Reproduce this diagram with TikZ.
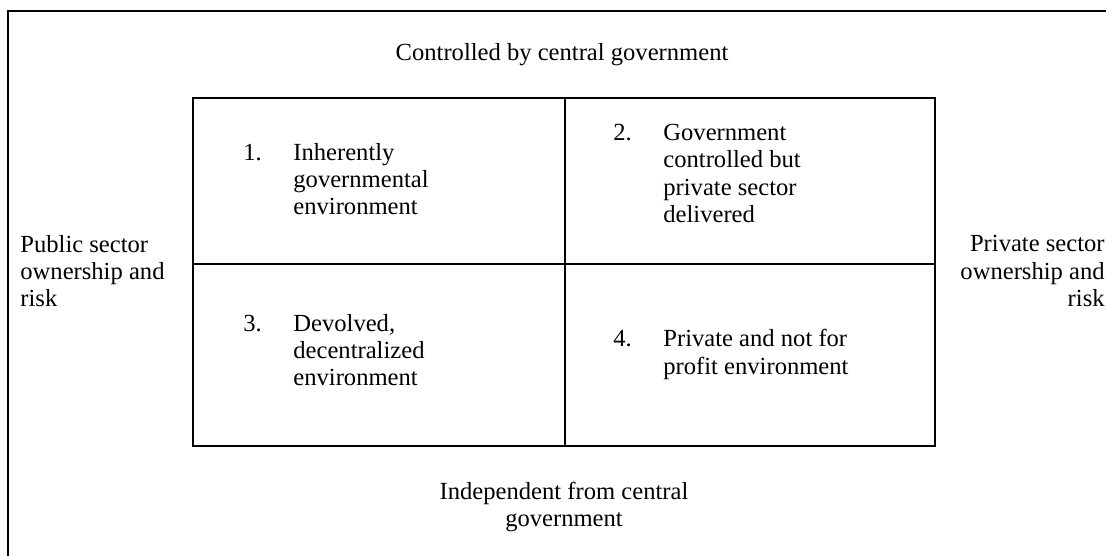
\documentclass[tikz,border=0pt]{standalone}
\usepackage{fontspec}
\setmainfont{Liberation Serif}
\usetikzlibrary{positioning}

\tikzset{
  txt/.style={inner sep=0pt, font=\fontsize{12.3}{13.6}\selectfont},
  rule/.style={line width=0.6pt},
}

\begin{document}
\begin{tikzpicture}[x=0.5pt,y=-0.5pt]
\useasboundingbox (0,0) rectangle (1106,556);
% outer frame (only top and left edges show)
\draw[rule] (1106,11) -- (8,11) -- (8,556);
% the four quadrants
\coordinate (nw) at (193,98);
\coordinate (se) at (935,446);
\draw[rule] (nw) rectangle (se);
\draw[rule] (565,98) -- (565,446);
\draw[rule] (193,264) -- (935,264);

\node[txt] (top) at (562,55) {Controlled by central government};
\node[txt, align=center] (bottom) at (564,507) {Independent from central\\government};
\node[txt, anchor=west, align=left] (public) at (20,271) {Public sector\\ownership and\\risk};
\node[txt, anchor=east, align=right] (private) at (1105,271) {Private sector\\ownership and\\risk};

\node[txt, anchor=west] (q1) at (243,182) {\begin{tabular}{@{}p{25pt}@{}l@{}}
  1. & Inherently\\ & governmental\\ & environment\end{tabular}};
\node[txt, anchor=west] (q2) at (613,176) {\begin{tabular}{@{}p{25pt}@{}l@{}}
  2. & Government\\ & controlled but\\ & private sector\\ & delivered\end{tabular}};
\node[txt, anchor=west] (q3) at (243,353) {\begin{tabular}{@{}p{25pt}@{}l@{}}
  3. & Devolved,\\ & decentralized\\ & environment\end{tabular}};
\node[txt, anchor=west] (q4) at (613,355) {\begin{tabular}{@{}p{25pt}@{}l@{}}
  4. & Private and not for\\ & profit environment\end{tabular}};
\end{tikzpicture}
\end{document}
